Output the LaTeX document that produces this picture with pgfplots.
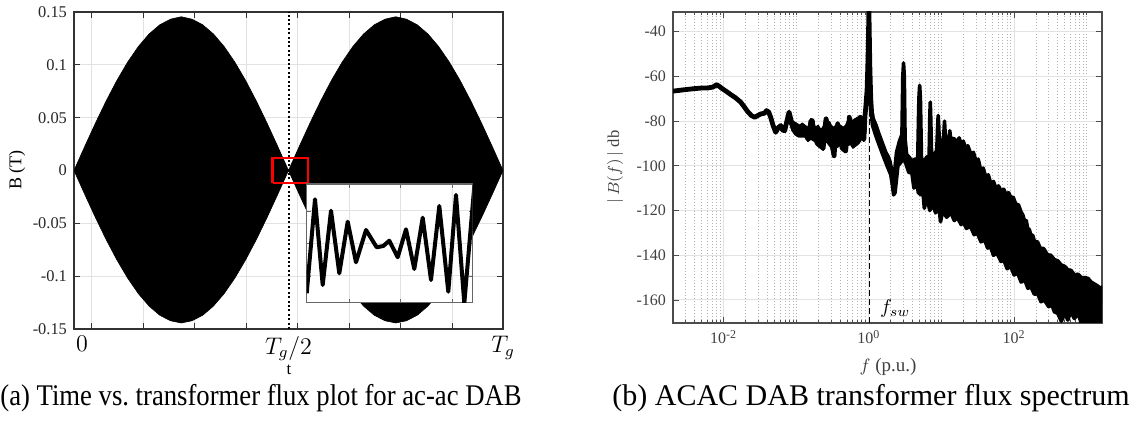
\documentclass[border=0pt]{standalone}
\usepackage{fontspec}
\setmainfont{Liberation Serif}
\usepackage{graphicx}
\usepackage{pgfplots}
\pgfplotsset{compat=1.18}
\definecolor{gridgray}{RGB}{226,226,226}
\definecolor{axgray}{RGB}{50,50,50}
\begin{document}
\begin{tikzpicture}[x=1pt,y=1pt]
\path[use as bounding box] (0,0) rectangle (565.5,213.5);

% ---------------- left: time plot ----------------
\begin{axis}[
  at={(37pt,49pt)}, anchor=south west, scale only axis,
  width=214.5pt, height=158.5pt,
  xmin=0, xmax=1, ymin=-0.15, ymax=0.15,
  xtick={0.0413,0.1613,0.2813,0.4013,0.5213,0.6413,0.7613,0.8813},
  xticklabels={},
  extra x ticks={0.0186,0.5,1},
  extra x tick labels={$0$,$T_g/2$,$T_g$},
  extra x tick style={grid=none, major tick length=0pt,
     tick label style={font=\fontsize{11.5}{12}\selectfont}},
  ytick={-0.15,-0.1,-0.05,0,0.05,0.1,0.15},
  yticklabels={-0.15,-0.1,-0.05,0,0.05,0.1,0.15},
  yticklabel style={font=\fontsize{8.2}{9}\selectfont, text=black!85},
  grid=major, major grid style={gridgray, line width=0.5pt},
  tick align=inside, major tick length=3pt,
  tick style={axgray, line width=0.5pt},
  axis line style={axgray, line width=0.6pt},
]
\addplot[fill=black, draw=black, line width=0.3pt] coordinates {
 (0,0) (0.025,0.0227) (0.05,0.0448) (0.075,0.0658) (0.1,0.0852) (0.125,0.1025)
 (0.15,0.1173) (0.175,0.1292) (0.2,0.1379) (0.225,0.1432) (0.25,0.1455)
 (0.275,0.1432) (0.3,0.1379) (0.325,0.1292) (0.35,0.1173) (0.375,0.1025)
 (0.4,0.0852) (0.425,0.0658) (0.45,0.0448) (0.475,0.0227) (0.5,0)
 (0.525,0.0227) (0.55,0.0448) (0.575,0.0658) (0.6,0.0852) (0.625,0.1025)
 (0.65,0.1173) (0.675,0.1292) (0.7,0.1379) (0.725,0.1432) (0.75,0.1455)
 (0.775,0.1432) (0.8,0.1379) (0.825,0.1292) (0.85,0.1173) (0.875,0.1025)
 (0.9,0.0852) (0.925,0.0658) (0.95,0.0448) (0.975,0.0227) (1,0)
 (0.975,-0.0225) (0.95,-0.0445) (0.925,-0.0654) (0.9,-0.0846) (0.875,-0.1018)
 (0.85,-0.1165) (0.825,-0.1283) (0.8,-0.1370) (0.775,-0.1422) (0.75,-0.1443)
 (0.725,-0.1422) (0.7,-0.1370) (0.675,-0.1283) (0.65,-0.1165) (0.625,-0.1018)
 (0.6,-0.0846) (0.575,-0.0654) (0.55,-0.0445) (0.525,-0.0225) (0.5,0)
 (0.475,-0.0225) (0.45,-0.0445) (0.425,-0.0654) (0.4,-0.0846) (0.375,-0.1018)
 (0.35,-0.1165) (0.325,-0.1283) (0.3,-0.1370) (0.275,-0.1422) (0.25,-0.1443)
 (0.225,-0.1422) (0.2,-0.1370) (0.175,-0.1283) (0.15,-0.1165) (0.125,-0.1018)
 (0.1,-0.0846) (0.075,-0.0654) (0.05,-0.0445) (0.025,-0.0225) (0,0)
};
\addplot[black, line width=1pt, dash pattern=on 1pt off 1.2pt] coordinates {(0.5,-0.15) (0.5,0.15)};
\addplot[red, line width=1.2pt] coordinates {(0.463,-0.0121) (0.546,-0.0121) (0.546,0.0121) (0.463,0.0121) (0.463,-0.0121)};
\end{axis}

% inset
\begin{axis}[
  at={(153.35pt,62.15pt)}, anchor=south west, scale only axis,
  width=83pt, height=59.35pt,
  xmin=0, xmax=166, ymin=0, ymax=118.7,
  xtick={42.3,93.3,145.3}, ytick={26.7,59.2,91.7},
  xticklabels={}, yticklabels={},
  grid=major, major grid style={gridgray, line width=0.5pt},
  axis background/.style={fill=white},
  tick align=inside, major tick length=2pt,
  tick style={black!60, line width=0.4pt},
  axis line style={black!60, line width=0.6pt},
]
\addplot[black, line width=2pt, line join=round] coordinates {
 (0,9.4) (8.3,103.4) (16,17.7) (24.3,92) (32.6,29.4) (41,81) (49.3,40.4)
 (59.3,72.7) (70,55.4) (76.6,56.7) (82.6,62) (91,45.4) (99.3,73.4) (107.6,33.7)
 (116,85) (124.3,22.7) (132.6,96.7) (141.6,11) (149.3,107.7) (157.6,-0.6) (168,121)
};
\end{axis}

% ---------------- right: spectrum ----------------
\begin{axis}[
  at={(336.5pt,52pt)}, anchor=south west, scale only axis,
  width=214.5pt, height=155.5pt,
  xmode=log, xmin=0.002, xmax=1625, ymin=-170.3, ymax=-31.2,
  xtick={0.01,1,100},
  xticklabels={10\textsuperscript{-2},10\textsuperscript{0},10\textsuperscript{2}},
  minor xtick={0.002,0.003,0.004,0.005,0.006,0.007,0.008,0.009,
    0.02,0.03,0.04,0.05,0.06,0.07,0.08,0.09,0.1,
    0.2,0.3,0.4,0.5,0.6,0.7,0.8,0.9,
    2,3,4,5,6,7,8,9,10,20,30,40,50,60,70,80,90,
    200,300,400,500,600,700,800,900,1000},
  ytick={-160,-140,-120,-100,-80,-60,-40},
  yticklabels={-160,-140,-120,-100,-80,-60,-40},
  ticklabel style={font=\fontsize{8}{9}\selectfont, text=black!75},
  grid=both,
  major grid style={gridgray, line width=0.5pt},
  minor grid style={black!30, line width=0.4pt, dash pattern=on 0.5pt off 1pt},
  tick align=inside, major tick length=3pt, minor tick length=1.5pt,
  tick style={black!70, line width=0.4pt},
  axis line style={black!70, line width=0.6pt},
]
\addplot[black, line width=0.4pt, dash pattern=on 3pt off 1.5pt] coordinates {(1,-170.3) (1,-31.2)};
% dense low-frequency band
\addplot[fill=black, draw=black, line width=0.8pt, line join=round] coordinates {
 (0.0794,-76) (0.0891,-80) (0.1,-81) (0.1122,-82) (0.1202,-81) (0.1318,-82)
 (0.1445,-83) (0.1585,-79) (0.1698,-79.5) (0.182,-83) (0.1995,-82) (0.2188,-84)
 (0.2399,-82) (0.257,-78.5) (0.2754,-80) (0.302,-82) (0.3311,-83) (0.3715,-80.5)
 (0.3981,-82) (0.4365,-83) (0.4786,-82) (0.537,-78) (0.5888,-80) (0.6457,-79)
 (0.7079,-78.5) (0.7586,-78) (0.8128,-80) (0.871,-77) (0.912,-73)
 (0.912,-84) (0.8511,-89) (0.7943,-88) (0.7244,-90) (0.6607,-91) (0.6026,-92)
 (0.5495,-90) (0.5012,-91) (0.4677,-94) (0.4266,-93) (0.389,-90) (0.3548,-92)
 (0.3311,-96) (0.302,-92) (0.2754,-90) (0.2512,-89) (0.2344,-93) (0.2138,-92)
 (0.195,-91) (0.1778,-89) (0.1585,-88) (0.1445,-89) (0.1318,-87) (0.1175,-87)
 (0.1072,-87) (0.0955,-86) (0.0871,-84) (0.0794,-80)
};
\addplot[black, line width=2.4pt, line join=round] coordinates {
 (0.002,-66.6) (0.002818,-66.0) (0.00389,-65.5) (0.005012,-65.2) (0.005943,-65.2)
 (0.007079,-64.8) (0.00798,-63.7) (0.00871,-64.5) (0.00955,-65.5) (0.010965,-66.8)
 (0.012445,-68.1) (0.014454,-69.5) (0.0171,-71.5) (0.019055,-73.5) (0.021184,-75.6)
 (0.023988,-77.5) (0.026669,-78.3) (0.029512,-77.5) (0.032359,-76.8) (0.036308,-76.5)
 (0.038905,-75.3) (0.041687,-76) (0.04436,-78.3) (0.047863,-82) (0.051999,-85)
 (0.056234,-83) (0.060954,-82) (0.064565,-84) (0.069183,-84.3) (0.074131,-80)
 (0.079433,-76) (0.085114,-80) (0.093325,-84.3) (0.1,-83) (0.107152,-86)
 (0.114815,-85.8) (0.120226,-82) (0.127644,-82.8) (0.138038,-86) (0.144544,-88)
 (0.149624,-87.3) (0.158489,-80) (0.165959,-79.8) (0.17378,-87) (0.18197,-84)
 (0.186209,-86.5) (0.194984,-90) (0.204174,-84) (0.213796,-91) (0.223872,-86)
 (0.234423,-92) (0.245471,-84) (0.25704,-79) (0.269153,-88) (0.278612,-81)
 (0.288403,-90) (0.301995,-84) (0.316228,-92) (0.331131,-95.5) (0.346737,-86)
 (0.363078,-91) (0.371535,-81.3) (0.389045,-89) (0.40738,-82.8) (0.42658,-92)
 (0.446684,-85) (0.47863,-93.3) (0.501187,-84) (0.524807,-90) (0.537032,-78.3)
 (0.562341,-88) (0.588844,-82) (0.616595,-90) (0.645654,-80) (0.676083,-89)
 (0.707946,-79) (0.732825,-86) (0.758578,-78.3) (0.794328,-85) (0.812831,-82.8)
 (0.851138,-88) (0.881049,-78) (0.905733,-73.8) (0.944061,-66) (0.972747,-52)
 (1,-31) (1.028,-55) (1.059,-70) (1.096,-78)
};
\addplot[fill=black, draw=black, line width=1.8pt, line join=round] coordinates {
 (1.072,-74) (1.15,-79) (1.259,-82) (1.35,-85) (1.459,-88) (1.58,-91) (1.71,-94)
 (1.85,-96) (1.95,-98) (2.089,-103) (2.213,-106) (2.30,-100) (2.40,-94) (2.63,-89)
 (2.85,-86) (2.93,-60) (3.0,-54) (3.07,-60) (3.15,-88) (3.311,-95) (3.55,-96)
 (3.98,-98) (4.3,-97) (4.7,-97) (4.88,-70) (5.0,-64) (5.12,-70) (5.3,-97)
 (5.75,-98) (6.3,-96) (6.75,-96) (6.9,-78) (7.0,-71.5) (7.1,-78) (7.3,-95)
 (8.0,-95) (8.6,-93) (8.85,-82) (9.0,-77.5) (9.15,-82) (9.4,-92) (10.2,-91)
 (10.75,-86) (11.0,-80) (11.25,-86) (11.8,-89) (12.7,-88) (13.0,-84.3) (13.3,-87.5)
 (15,-88) (16.6,-89.5) (17.5,-87.5) (18.6,-90.3) (20,-89) (21.5,-92.5) (23,-91)
 (25.4,-94.8) (27.5,-94) (30,-98) (32,-97) (34.9,-102.3) (37.5,-101) (41,-105.5)
 (44,-104) (47.9,-108) (52,-107) (56,-110) (61,-109) (66.1,-111.3) (72,-110.5)
 (78,-113) (84,-112) (90.6,-114.3) (97,-114) (105,-117) (115,-117.5) (124.5,-120.6)
 (132,-122) (140,-125) (147,-124.5) (153.8,-128) (162,-128.5) (170,-131) (180,-131)
 (190.5,-133.8) (210,-134) (230,-137) (255,-137) (288.4,-139.8) (320,-140) (360,-142)
 (400,-142.5) (443.6,-144.3) (500,-145) (550,-146.5) (610,-146.8) (676,-148.8)
 (760,-148.5) (850,-150) (950,-150) (1047,-150.4) (1150,-152) (1300,-153)
 (1450,-154) (1585,-155.6) (1640,-154)
 (1640,-158) (1585,-171) (1450,-168) (1300,-171) (1175,-171.5) (1080,-168)
 (1000,-171) (930,-167) (851,-170.8) (760,-166) (676,-168.3) (600,-165) (550,-169)
 (500,-166) (446.7,-169.5) (400,-166) (358.9,-165.3) (330,-162) (300,-163)
 (260,-160) (234.4,-160.8) (210,-157) (190,-157.5) (170,-154) (154.9,-154.8)
 (140,-151) (125,-152) (112,-148) (100,-148.8) (90,-145) (80,-146) (72,-142)
 (66.07,-142.8) (58,-139) (52,-140) (47,-136) (43.25,-136.8) (39,-133) (35,-134)
 (31,-130) (28.18,-130.8) (25,-127) (22,-128) (20,-125) (18.62,-126.3) (16.5,-123)
 (15,-124.5) (13.5,-121) (11.75,-123) (10.4,-120) (9.7,-125) (9.2,-118) (8.3,-121)
 (7.5,-117) (6.9,-120) (6.3,-114) (5.8,-119) (5.5,-110) (5.25,-113) (4.79,-112)
 (4.5,-106) (4.17,-110) (3.9,-103) (3.55,-103) (3.23,-99) (2.95,-96) (2.82,-98)
 (2.51,-100) (2.29,-112) (2.19,-113) (2.09,-108) (2.0,-104) (1.78,-100) (1.51,-94)
 (1.259,-87) (1.122,-82) (1.072,-76)
};
\node[anchor=west, inner sep=0pt, font=\fontsize{10}{11}\selectfont] at (axis cs:1.41,-163.6) {$f_{sw}$};
\end{axis}

% axis labels
\node[font=\fontsize{8.5}{9}\selectfont] at (144.5,28.5) {t};
\node[font=\fontsize{9}{10}\selectfont, rotate=90] at (8.5,128.5) {B (T)};
\node[font=\fontsize{9.5}{10}\selectfont, text=black!75] at (444,30) {$f$ (p.u.)};
\node[font=\fontsize{8.3}{9}\selectfont, rotate=90, text=black!75] at (307.5,130) {$|\,B(f)\,|$ db};

% captions
\node[anchor=base west, inner sep=0pt, font=\fontsize{15}{16}\selectfont] at (0,10.5) {\scalebox{0.889}[1]{(a) Time vs.\ transformer flux plot for ac-ac DAB}};
\node[anchor=base west, inner sep=0pt, font=\fontsize{15}{16}\selectfont] at (306,10.5) {(b) ACAC DAB transformer flux spectrum};
\end{tikzpicture}
\end{document}
